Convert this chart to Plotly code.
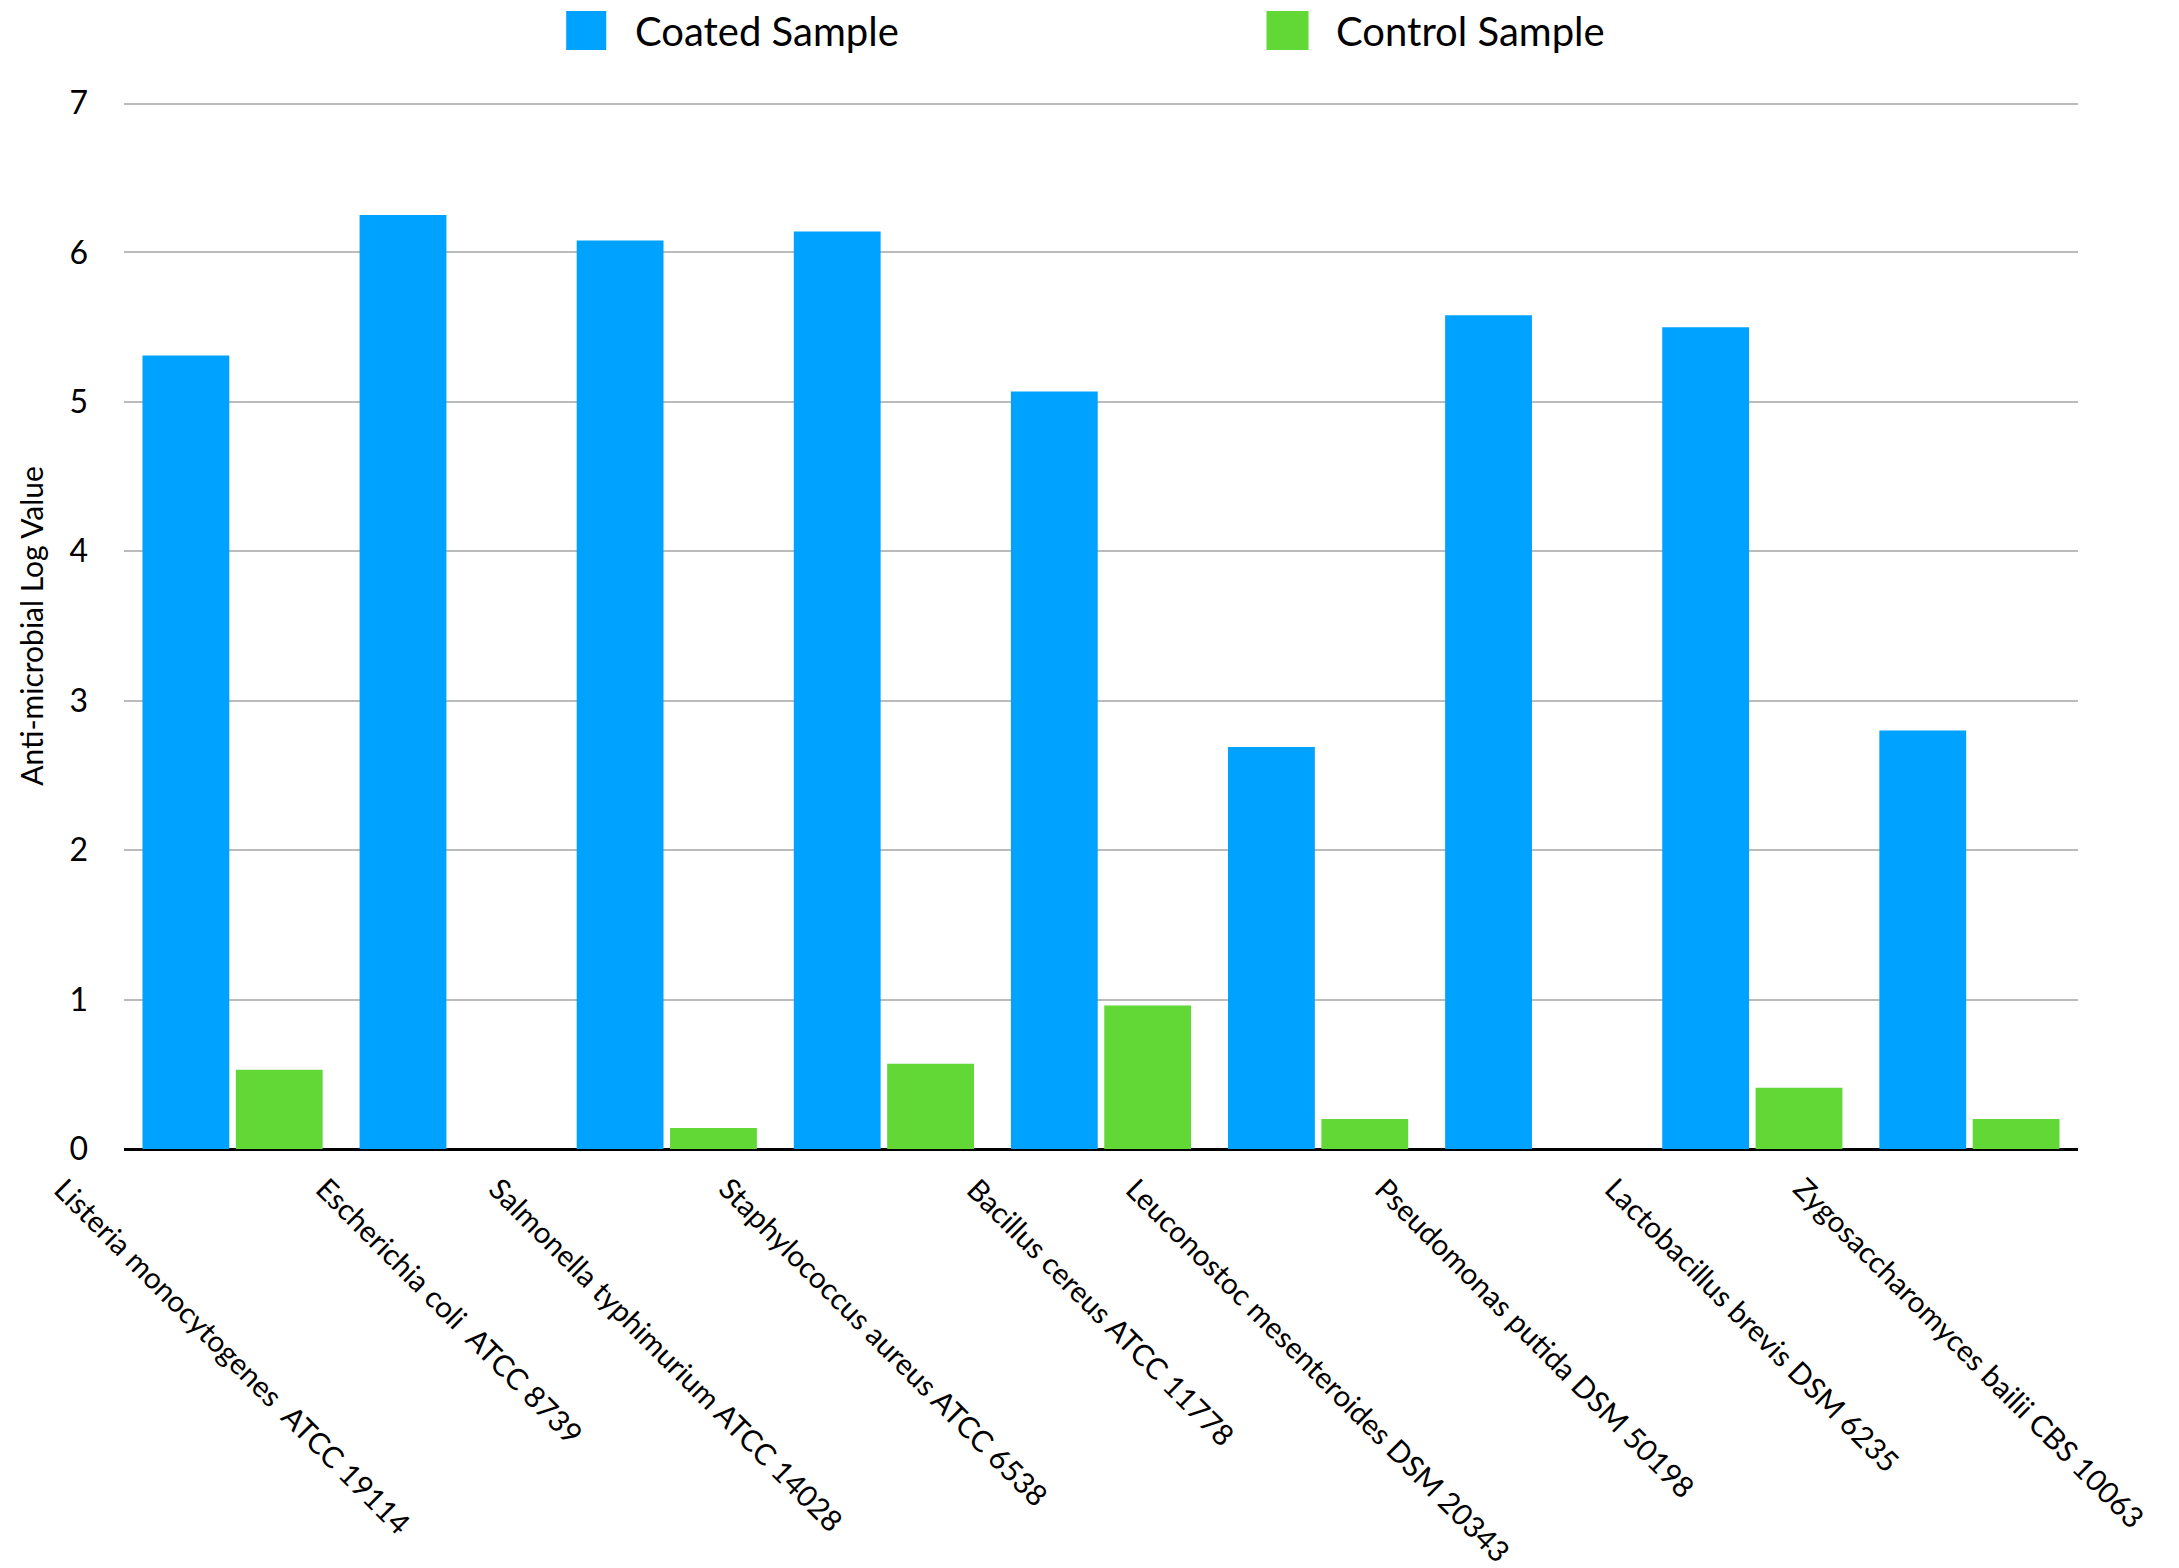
import plotly.graph_objects as go

categories = [
    "Listeria monocytogenes  ATCC 19114",
    "Escherichia coli  ATCC 8739",
    "Salmonella typhimurium ATCC 14028",
    "Staphylococcus aureus ATCC 6538",
    "Bacillus cereus ATCC 11778",
    "Leuconostoc mesenteroides DSM 20343",
    "Pseudomonas putida DSM 50198",
    "Lactobacillus brevis DSM 6235",
    "Zygosaccharomyces bailii CBS 10063",
]
coated = [5.31, 6.25, 6.08, 6.14, 5.07, 2.69, 5.58, 5.50, 2.80]
control = [0.53, 0.0, 0.14, 0.57, 0.96, 0.20, 0.0, 0.41, 0.20]
series_names = ["Coated Sample", "Control Sample"]
y_ticks = [0, 1, 2, 3, 4, 5, 6, 7]

BLUE = "#00A2FF"
GREEN = "#61D836"
FONT = "Lato"

fig = go.Figure()
fig.add_trace(go.Bar(x=categories, y=coated, name=series_names[0],
                     marker=dict(color=BLUE, line=dict(width=0)), showlegend=False))
fig.add_trace(go.Bar(x=categories, y=control, name=series_names[1],
                     marker=dict(color=GREEN, line=dict(width=0)), showlegend=False))

annotations = []
for c in categories:
    annotations.append(dict(
        x=c, y=0, xref="x", yref="y", text=c, showarrow=False,
        textangle=45, xanchor="center", yanchor="top", yshift=-19,
        font=dict(family=FONT, size=29.5, color="#000000"),
    ))

# manual legend
legend_items = [
    (series_names[0], BLUE, 0.2263, 0.2468, 0.2606),
    (series_names[1], GREEN, 0.5847, 0.6062, 0.6190),
]
shapes = []
for name, col, x0, x1, tx in legend_items:
    shapes.append(dict(type="rect", xref="paper", yref="paper",
                       x0=x0, x1=x1, y0=1.0507, y1=1.0880,
                       fillcolor=col, line=dict(width=0)))
    annotations.append(dict(x=tx, y=1.0692, xref="paper", yref="paper",
                            text=name, showarrow=False, xanchor="left",
                            yanchor="middle",
                            font=dict(family=FONT, size=40, color="#000000")))

# top gridline (plotly omits the gridline at the range edge); the shape is
# clipped to the plot area, so use double width to show a 2px line
shapes.append(dict(type="line", xref="paper", yref="y", x0=0, x1=1,
                   y0=y_ticks[-1], y1=y_ticks[-1], layer="below",
                   line=dict(color="#BBBBBB", width=4)))

fig.update_layout(
    width=2179, height=1568,
    margin=dict(l=124, r=101, t=103, b=419, autoexpand=False),
    paper_bgcolor="white", plot_bgcolor="white",
    barmode="group", bargap=0.14, bargroupgap=0.07,
    font=dict(family=FONT, color="#000000"),
    annotations=annotations, shapes=shapes,
    xaxis=dict(range=[-0.5, len(categories) - 0.5], autorange=False,
               showticklabels=False, showgrid=False, showline=False,
               zeroline=False, ticks="", fixedrange=True),
    yaxis=dict(range=[0, 7], autorange=False, tickvals=y_ticks, showgrid=True,
               gridcolor="#BBBBBB", gridwidth=2,
               zeroline=True, zerolinecolor="#000000", zerolinewidth=3,
               showline=False, ticks="", ticklabelstandoff=35,
               tickfont=dict(family=FONT, size=32, color="#000000"),
               title=dict(text="Anti-microbial Log Value", standoff=16,
                          font=dict(family=FONT, size=30, color="#000000"))),
)

fig.write_html("out.html")
